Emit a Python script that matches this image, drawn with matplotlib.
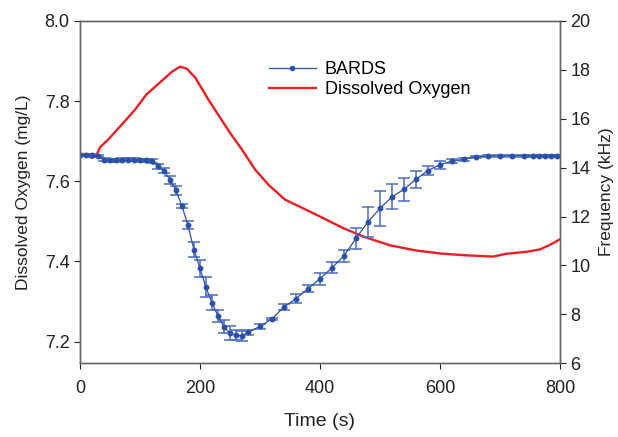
import matplotlib
matplotlib.use("Agg")
import matplotlib.pyplot as plt
from matplotlib.lines import Line2D

plt.rcParams["font.family"] = ["Liberation Sans", "DejaVu Sans"]

# BARDS frequency (kHz) vs time (s), with error bars
bards_t = [0, 10, 20, 30, 40, 50, 60, 70, 80, 90, 100, 110, 120, 130, 140, 150,
           160, 170, 180, 190, 200, 210, 220, 230, 240, 250, 260, 270, 280, 300,
           320, 340, 360, 380, 400, 420, 440, 460, 480, 500, 520, 540, 560, 580,
           600, 620, 640, 660, 680, 700, 720, 740, 755, 765, 775, 785, 795]
bards_f = [14.52, 14.52, 14.50, 14.48, 14.32, 14.31, 14.31, 14.32, 14.32, 14.32,
           14.31, 14.30, 14.26, 14.06, 13.87, 13.50, 13.07, 12.43, 11.64, 10.64,
           9.88, 9.10, 8.47, 7.93, 7.49, 7.22, 7.14, 7.12, 7.27, 7.50, 7.81, 8.30,
           8.64, 9.04, 9.45, 9.90, 10.39, 11.10, 11.78, 12.33, 12.80, 13.11, 13.52,
           13.88, 14.12, 14.27, 14.34, 14.45, 14.47, 14.49, 14.49, 14.49, 14.49,
           14.49, 14.49, 14.49, 14.49]
bards_err = [0.05, 0.05, 0.05, 0.05, 0.06, 0.06, 0.06, 0.06, 0.06, 0.06, 0.06,
             0.06, 0.08, 0.10, 0.10, 0.15, 0.18, 0.10, 0.16, 0.30, 0.34, 0.41,
             0.31, 0.25, 0.26, 0.29, 0.21, 0.20, 0.10, 0.10, 0.05, 0.14, 0.19,
             0.14, 0.24, 0.22, 0.24, 0.43, 0.61, 0.72, 0.51, 0.46, 0.36, 0.19,
             0.17, 0.10, 0.06, 0.04, 0.04, 0.04, 0.04, 0.04, 0.04, 0.04, 0.04,
             0.04, 0.04]

# Dissolved oxygen (mg/L) vs time (s)
do_t = [0, 8, 20, 28, 33, 47, 70, 92, 111, 130, 153, 167, 178, 192, 214, 230,
        250, 270, 292, 315, 342, 367, 400, 439, 472, 517, 561, 605, 645, 689,
        711, 745, 767, 783, 800]
do_v = [7.668, 7.668, 7.658, 7.666, 7.684, 7.704, 7.742, 7.779, 7.817, 7.842,
        7.873, 7.886, 7.881, 7.859, 7.804, 7.767, 7.721, 7.679, 7.629, 7.590,
        7.554, 7.536, 7.512, 7.483, 7.462, 7.440, 7.427, 7.419, 7.415, 7.412,
        7.419, 7.424, 7.430, 7.441, 7.455]

BLUE = "#2B50AA"
RED = "#EE1C25"

fig = plt.figure(figsize=(6.18, 4.37), dpi=100)
ax = fig.add_axes([0.1294, 0.169, 0.7766, 0.783])
ax2 = ax.twinx()

ax.plot(do_t, do_v, color=RED, linewidth=1.7, zorder=3)

ax2.errorbar(bards_t, bards_f, yerr=bards_err, color=BLUE,
             ecolor="#4A6CBE", elinewidth=1.1, capsize=4, capthick=1.1,
             marker="o", markersize=3.2, linewidth=0.9)

ax.set_xlim(0, 800)
ax.set_ylim(7.146, 8.0)
ax.set_yticks([7.2, 7.4, 7.6, 7.8, 8.0])
ax.set_yticklabels(["7.2", "7.4", "7.6", "7.8", "8.0"])
ax.set_xticks([0, 200, 400, 600, 800])
ax2.set_ylim(6, 20)
ax2.set_yticks([6, 8, 10, 12, 14, 16, 18, 20])

ax.set_xlabel("Time (s)", fontsize=14, color="#222222", labelpad=12)
ax.set_ylabel("Dissolved Oxygen (mg/L)", fontsize=12.5, color="#222222",
              labelpad=10)
ax2.set_ylabel("Frequency (kHz)", fontsize=12.5, color="#222222", labelpad=6)

for a in (ax, ax2):
    a.tick_params(direction="out", length=4, labelsize=13, colors="#222222")
    for s in a.spines.values():
        s.set_color("#666666")
        s.set_linewidth(1.0)
ax.tick_params(axis="x", pad=8)

handles = [
    Line2D([], [], color=BLUE, marker="o", markersize=3, linewidth=0.9),
    Line2D([], [], color=RED, linewidth=1.7),
]
ax2.legend(handles, ["BARDS", "Dissolved Oxygen"], loc="upper left",
           bbox_to_anchor=(0.36, 0.93), frameon=False, fontsize=13,
           handlelength=2.6, labelspacing=0.15, handletextpad=0.5,
           numpoints=1)

fig.savefig("out.png", dpi=100)
